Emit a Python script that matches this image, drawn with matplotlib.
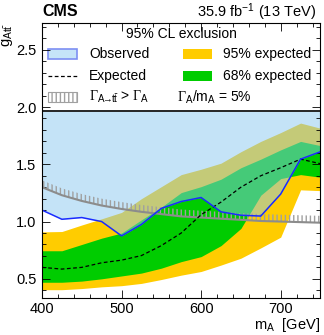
import matplotlib
matplotlib.use("Agg")
import matplotlib.pyplot as plt
from matplotlib.patches import Rectangle
from matplotlib.lines import Line2D
from matplotlib.ticker import MultipleLocator
import numpy as np

plt.rcParams['font.family'] = ['Liberation Sans', 'DejaVu Sans']
plt.rcParams['mathtext.fontset'] = 'custom'
plt.rcParams['mathtext.rm'] = 'Liberation Serif'
plt.rcParams['mathtext.sf'] = 'Liberation Sans'
plt.rcParams['mathtext.it'] = 'Liberation Sans:italic'
plt.rcParams['mathtext.bf'] = 'Liberation Sans:bold'
plt.rcParams['hatch.linewidth'] = 1.0

# --- dane ---
m_A = [400, 425, 450, 475, 500, 525, 550, 575, 600, 625, 650, 675, 700, 725, 750]
observed = [1.10, 1.02, 1.035, 1.00, 0.875, 0.975, 1.115, 1.175, 1.21, 1.085, 1.055, 1.048, 1.24, 1.545, 1.61]
expected = [0.60, 0.585, 0.60, 0.64, 0.663, 0.703, 0.79, 0.90, 1.06, 1.17, 1.30, 1.40, 1.47, 1.545, 1.505]
band68_lo = [0.47, 0.47, 0.48, 0.50, 0.525, 0.55, 0.593, 0.65, 0.694, 0.79, 0.94, 1.23, 1.375, 1.41, 1.387]
band68_hi = [0.745, 0.745, 0.80, 0.855, 0.90, 1.015, 1.126, 1.253, 1.305, 1.37, 1.47, 1.545, 1.626, 1.70, 1.663]
band95_lo = [0.405, 0.405, 0.415, 0.43, 0.44, 0.46, 0.494, 0.532, 0.564, 0.62, 0.68, 0.77, 0.864, 1.277, 1.27]
band95_hi = [0.91, 0.913, 0.97, 1.024, 1.08, 1.20, 1.305, 1.41, 1.457, 1.51, 1.61, 1.70, 1.777, 1.86, 1.815]
width_limit = [1.30, 1.23, 1.18, 1.14, 1.11, 1.085, 1.065, 1.045, 1.035, 1.025, 1.015, 1.005, 1.0, 0.995, 0.99]

obs_top = 1.962
ylim = (0.33, 2.73)
xlim = (400, 750)

c_obs = '#8bc9f1'
c_95 = '#ffcc00'
c_68 = '#00cc00'
c_line = '#1a2bff'
c_gray = '#8c8c8c'

fig = plt.figure(figsize=(3.24, 3.35), dpi=100)
ax = fig.add_axes([0.1296, 0.1096, 0.8595, 0.8204])

ax.fill_between(m_A, band95_lo, band95_hi, color=c_95, lw=0)
ax.fill_between(m_A, band68_lo, band68_hi, color=c_68, lw=0)
ax.fill_between(m_A, observed, obs_top, color=c_obs, alpha=0.5, lw=0)

# obszar Gamma_{A->tt} > Gamma_A (kreskowanie)
wl = np.array(width_limit)
ax.fill_between(m_A, wl, wl + 0.06, facecolor='none', edgecolor='#a0a0a0',
                hatch='||||', lw=0)
ax.plot(m_A, width_limit, color=c_gray, lw=1.5)

ax.plot(m_A, expected, color='black', lw=0.9, ls=(0, (3, 2)))
ax.plot(m_A, observed, color=c_line, lw=1.1)
ax.axhline(obs_top, color='black', lw=1.2)

ax.set_xlim(xlim)
ax.set_ylim(ylim)
ax.xaxis.set_major_locator(MultipleLocator(100))
ax.xaxis.set_minor_locator(MultipleLocator(20))
ax.yaxis.set_major_locator(MultipleLocator(0.5))
ax.yaxis.set_minor_locator(MultipleLocator(0.1))
ax.yaxis.set_major_formatter(matplotlib.ticker.FormatStrFormatter('%.1f'))
ax.tick_params(which='both', direction='in', top=True, right=True, labelsize=10.5, width=0.6)
ax.tick_params(which='major', length=6, pad=4)
ax.tick_params(axis='x', which='major', pad=2.5)
ax.tick_params(which='minor', length=3)
for s in ax.spines.values():
    s.set_linewidth(0.8)

ax.set_xlabel(r'm$_{\mathsf{A}}$  [GeV]', loc='right', fontsize=10.5, labelpad=0.5)
ax.set_ylabel(r'g$_{\mathsf{At\bar{t}}}$', loc='top', fontsize=10.5, labelpad=1)

# --- legenda rysowana recznie ---
tr = ax.transAxes
fs = 10
ax.text(0.50, 0.962, '95% CL exclusion', transform=tr, ha='center', va='center', fontsize=fs)

x1a, x1b, tx1 = 0.0215, 0.1257, 0.169
x2a, x2b, tx2 = 0.506, 0.610, 0.650
r1, r2, r3 = 0.889, 0.809, 0.733
h = 0.036

ax.add_patch(Rectangle((x1a, r1 - h / 2), x1b - x1a, h, transform=tr,
                       facecolor='#c5e4f8', edgecolor='#7d8ff2', lw=1.2))
ax.text(tx1, r1, 'Observed', transform=tr, va='center', fontsize=fs)
ax.add_line(Line2D([x1a, x1b], [r2, r2], transform=tr, color='black', lw=0.9, ls=(0, (3, 2))))
ax.text(tx1, r2, 'Expected', transform=tr, va='center', fontsize=fs)
ax.add_patch(Rectangle((x1a, r3 - h / 2), x1b - x1a, h, transform=tr,
                       facecolor='white', edgecolor='#a0a0a0', hatch='||||', lw=0.8))
ax.text(tx1, r3, r'$\Gamma_{\mathsf{A\!\!\rightarrow\!\!t\bar{t}}}$ > $\Gamma_{\mathsf{A}}$',
        transform=tr, va='center', fontsize=fs)

ax.add_patch(Rectangle((x2a, r1 - h / 2), x2b - x2a, h, transform=tr,
                       facecolor=c_95, edgecolor='none'))
ax.text(tx2, r1, '95% expected', transform=tr, va='center', fontsize=fs)
ax.add_patch(Rectangle((x2a, r2 - h / 2), x2b - x2a, h, transform=tr,
                       facecolor=c_68, edgecolor='none'))
ax.text(tx2, r2, '68% expected', transform=tr, va='center', fontsize=fs)
ax.text(0.485, r3, r'$\Gamma_{\mathsf{A}}$/m$_{\mathsf{A}}$ = 5%', transform=tr,
        va='center', fontsize=fs)

fig.text(0.1296, 1 - 12 / 335, 'CMS', fontsize=11.5, fontweight='bold', va='center', ha='left')
fig.text(0.975, 1 - 12 / 335, r'35.9 fb$^{\mathsf{-1}}$ (13 TeV)', fontsize=10.5, va='center', ha='right')

fig.savefig('out.png', dpi=100)
